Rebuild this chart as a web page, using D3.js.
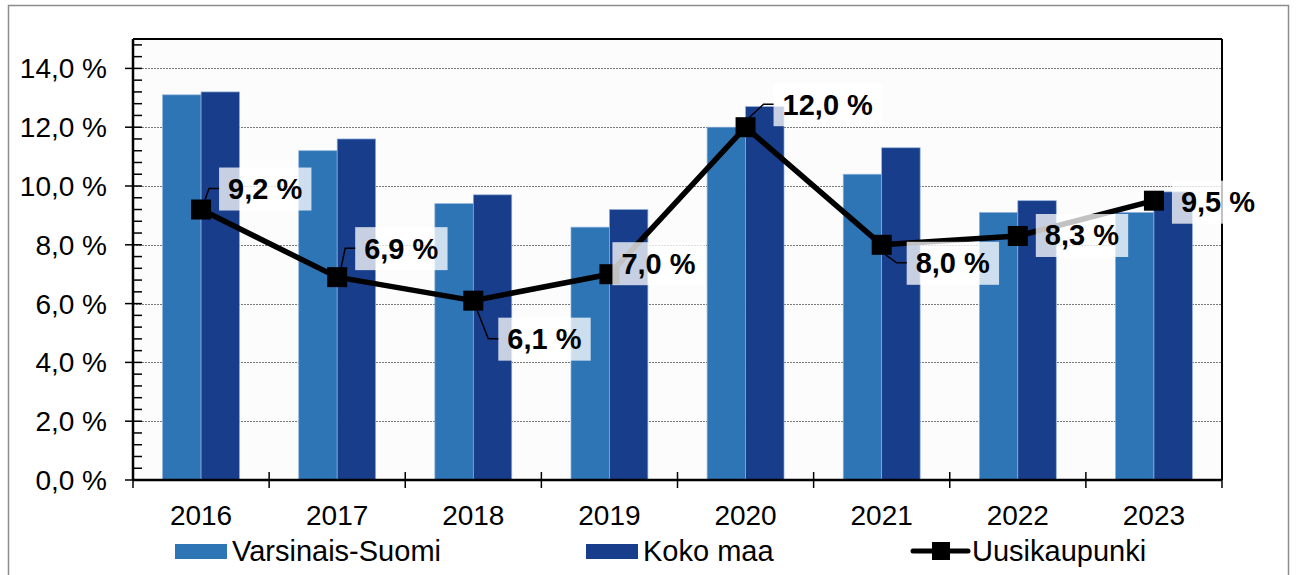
<!DOCTYPE html>
<html lang="fi">

<head>
  <meta charset="UTF-8">
  <title>Uusikaupunki</title>
  <script src="https://d3js.org/d3.v7.min.js"></script>
  <style>
    body {
      margin: 0;
      background: #fff;
      font-family: "Liberation Sans", Arial, sans-serif;
    }

    .grid line {
      stroke: #7a7a7a;
      stroke-width: 1px;
      stroke-dasharray: 2, 1;
    }

    .tick-label {
      font-size: 28px;
      fill: #000;
    }

    .legend-label {
      font-size: 29px;
      fill: #000;
    }

    .data-label {
      font-size: 29px;
      font-weight: bold;
      fill: #000;
    }
  </style>
</head>

<body>
  <div id="chart"></div>
  <script>
    // chart data
    const years = ["2016", "2017", "2018", "2019", "2020", "2021", "2022", "2023"];
    const varsinaisSuomi = [13.1, 11.2, 9.4, 8.6, 12.0, 10.4, 9.1, 9.1];
    const kokoMaa = [13.2, 11.6, 9.7, 9.2, 12.7, 11.3, 9.5, 9.8];
    const uusikaupunki = [9.2, 6.9, 6.1, 7.0, 12.0, 8.0, 8.3, 9.5];
    const yTicks = [0, 2, 4, 6, 8, 10, 12, 14];
    const seriesNames = ["Varsinais-Suomi", "Koko maa", "Uusikaupunki"];

    // where each data label sits relative to its marker (text left, text middle)
    const labelOffsets = [[27, -21], [27, -29], [34, 38], [12, -11], [37, -23], [34, 18], [27, -1], [27, 1]];

    const colors = { vs: "#2e75b6", km: "#183d8b", line: "#000" };

    const W = 1296, H = 575;
    const margin = { top: 39, right: 74, bottom: 95, left: 133 };
    const width = W - margin.left - margin.right,
      height = H - margin.top - margin.bottom;

    const fmt = v => v.toFixed(1).replace(".", ",") + " %";

    const svg = d3.select("#chart").append("svg")
      .attr("width", W)
      .attr("height", H);

    // outer frame
    svg.append("rect")
      .attr("x", 8.5).attr("y", 5.5)
      .attr("width", 1280).attr("height", 600)
      .attr("fill", "none")
      .attr("stroke", "#8c8c8c")
      .attr("stroke-width", 1.5);

    const g = svg.append("g")
      .attr("transform", "translate(" + margin.left + "," + margin.top + ")");

    const x = d3.scaleBand().domain(years).range([0, width]).padding(0);
    const xSub = d3.scaleBand().domain(["vs", "km"]).range([0, x.bandwidth()])
      .paddingInner(0).paddingOuter(0.77);
    const y = d3.scaleLinear().domain([0, 15]).range([height, 0]);

    // plot background
    g.append("rect")
      .attr("width", width).attr("height", height)
      .attr("fill", "#fcfcfc");

    // gridlines
    g.append("g").attr("class", "grid")
      .selectAll("line")
      .data(yTicks.filter(t => t > 0))
      .join("line")
      .attr("x1", 0).attr("x2", width)
      .attr("y1", d => Math.round(y(d)) + 0.5)
      .attr("y2", d => Math.round(y(d)) + 0.5);

    // bars
    const barData = [];
    years.forEach((yr, i) => {
      barData.push({ year: yr, key: "vs", value: varsinaisSuomi[i] });
      barData.push({ year: yr, key: "km", value: kokoMaa[i] });
    });

    g.append("g").selectAll("rect")
      .data(barData)
      .join("rect")
      .attr("x", d => x(d.year) + xSub(d.key))
      .attr("y", d => y(d.value))
      .attr("width", xSub.bandwidth())
      .attr("height", d => height - y(d.value))
      .attr("fill", d => colors[d.key])
      .attr("stroke", "#8fb0dc")
      .attr("stroke-width", 0.7);

    // frame of the plot area
    g.append("line").attr("x1", 0).attr("x2", width).attr("y1", 0).attr("y2", 0)
      .attr("stroke", "#000").attr("stroke-width", 2);
    g.append("line").attr("x1", width).attr("x2", width).attr("y1", 0).attr("y2", height)
      .attr("stroke", "#000").attr("stroke-width", 2);

    // y axis: major ticks across the axis, minor ticks inside
    const minor = d3.range(0.4, 15, 0.4).filter(v => Math.abs(v / 2 - Math.round(v / 2)) > 0.01);
    g.append("g").selectAll("line")
      .data(minor)
      .join("line")
      .attr("x1", 0).attr("x2", 9)
      .attr("y1", d => y(d)).attr("y2", d => y(d))
      .attr("stroke", "#000").attr("stroke-width", 1.5);
    g.append("g").selectAll("line")
      .data(yTicks)
      .join("line")
      .attr("x1", -8).attr("x2", 9)
      .attr("y1", d => y(d)).attr("y2", d => y(d))
      .attr("stroke", "#000").attr("stroke-width", 1.5);
    g.append("g").selectAll("text")
      .data(yTicks)
      .join("text")
      .attr("class", "tick-label")
      .attr("x", -26)
      .attr("y", d => y(d))
      .attr("dy", "0.36em")
      .attr("text-anchor", "end")
      .text(d => fmt(d));
    g.append("line").attr("x1", 0).attr("x2", 0).attr("y1", 0).attr("y2", height)
      .attr("stroke", "#000").attr("stroke-width", 2.5);

    // x axis: ticks at category boundaries
    const bounds = years.map(d => x(d)).concat([width]);
    g.append("g").selectAll("line")
      .data(bounds)
      .join("line")
      .attr("x1", d => d).attr("x2", d => d)
      .attr("y1", height - 8).attr("y2", height + 8)
      .attr("stroke", "#000").attr("stroke-width", 1.5);
    g.append("line").attr("x1", 0).attr("x2", width).attr("y1", height).attr("y2", height)
      .attr("stroke", "#000").attr("stroke-width", 2.5);
    g.append("g").selectAll("text")
      .data(years)
      .join("text")
      .attr("class", "tick-label")
      .attr("x", d => x(d) + x.bandwidth() / 2)
      .attr("y", height + 45)
      .attr("text-anchor", "middle")
      .text(d => d);

    // line series
    const pts = years.map((yr, i) => ({
      year: yr,
      value: uusikaupunki[i],
      px: x(yr) + x.bandwidth() / 2,
      py: y(uusikaupunki[i]),
      off: labelOffsets[i]
    }));

    g.append("path")
      .datum(pts)
      .attr("fill", "none")
      .attr("stroke", colors.line)
      .attr("stroke-width", 5.5)
      .attr("stroke-linejoin", "round")
      .attr("d", d3.line().x(d => d.px).y(d => d.py));

    g.append("g").selectAll("rect")
      .data(pts)
      .join("rect")
      .attr("x", d => d.px - 10).attr("y", d => d.py - 10)
      .attr("width", 20).attr("height", 20)
      .attr("fill", "#000");

    // data labels with leader lines
    const lab = g.append("g");
    pts.forEach(d => {
      const tx = d.px + d.off[0], ty = d.py + d.off[1];
      const t = lab.append("text")
        .attr("class", "data-label")
        .attr("x", tx).attr("y", ty)
        .attr("dy", "0.36em")
        .text(fmt(d.value));
      const bb = t.node().getBBox();
      lab.insert("rect", "text")
        .attr("x", bb.x - 9).attr("y", ty - 21)
        .attr("width", bb.width + 18).attr("height", 43)
        .attr("fill", "#fff").attr("fill-opacity", 0.76);
      if (Math.abs(d.off[1]) > 15) {
        const sy = d.py + (d.off[1] < 0 ? -10 : 10);
        const bx = bb.x - 9;
        lab.append("path")
          .attr("fill", "none")
          .attr("stroke", "#000")
          .attr("stroke-width", 1.5)
          .attr("d", "M" + (d.px + 4) + "," + sy + "L" + (bx - 10) + "," + ty + "L" + bx + "," + ty);
      }
    });

    // legend
    const legendX = [175, 586, 913];
    const legendY = 551;
    const leg = svg.append("g");
    seriesNames.forEach((name, i) => {
      const lx = legendX[i];
      if (i < 2) {
        leg.append("rect")
          .attr("x", lx).attr("y", legendY - 7)
          .attr("width", 52).attr("height", 15)
          .attr("fill", i === 0 ? colors.vs : colors.km);
      } else {
        leg.append("line")
          .attr("x1", lx).attr("x2", lx + 55)
          .attr("y1", legendY).attr("y2", legendY)
          .attr("stroke", "#000").attr("stroke-width", 5)
          .attr("stroke-linecap", "round");
        leg.append("rect")
          .attr("x", lx + 19).attr("y", legendY - 9)
          .attr("width", 18).attr("height", 18)
          .attr("fill", "#000");
      }
      leg.append("text")
        .attr("class", "legend-label")
        .attr("x", lx + (i < 2 ? 57 : 59))
        .attr("y", legendY)
        .attr("dy", "0.36em")
        .text(name);
    });
  </script>
</body>

</html>
